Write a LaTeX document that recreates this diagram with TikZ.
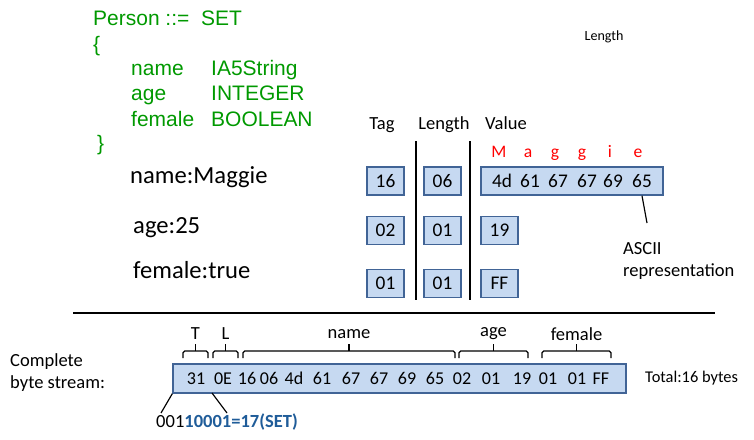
\documentclass[tikz,border=0pt]{standalone}
\usepackage{fontspec}
\setmainfont{Carlito}
\newfontfamily\asnfont{Liberation Sans}
\usetikzlibrary{positioning}

\definecolor{asngreen}{RGB}{0,153,0}
\definecolor{boxfill}{RGB}{198,217,241}
\definecolor{boxline}{RGB}{65,100,150}
\definecolor{bitblue}{RGB}{31,92,153}

\tikzset{
  asn/.style={font=\asnfont\fontsize{17.9}{21}\selectfont, text=asngreen, anchor=base west, inner sep=0},
  lbl/.style={font=\fontsize{15.8}{18.8}\selectfont, inner sep=0},
  field/.style={font=\fontsize{21}{24}\selectfont, anchor=base west, inner sep=0},
  tlvbox/.style={draw=boxline, line width=1.2pt, fill=boxfill, minimum height=0.84cm, inner sep=0},
  byte/.style={font=\fontsize{16.5}{19}\selectfont, inner sep=0},
  sbyte/.style={font=\fontsize{15.4}{18}\selectfont, inner sep=0},
  letter/.style={font=\fontsize{15}{18}\selectfont, text=red, anchor=base, inner sep=0},
  bracket/.style={line width=1.1pt, rounded corners=1.5pt},
}

\begin{document}
\begin{tikzpicture}[x=0.03cm, y=-0.03cm]
    \useasboundingbox (0,0) rectangle (754,439);

    % ASN.1 definition
    \node[asn] (def) at (93,25) {Person ::=\ \ SET};
    \node[asn] (lbrace) at (93,51) {\{};
    \node[asn] (fname) at (131,75) {name};
    \node[asn] (tname) at (211,75) {IA5String};
    \node[asn] (fage) at (131,100.5) {age};
    \node[asn] (tage) at (211,100.5) {INTEGER};
    \node[asn] (ffemale) at (131,126) {female};
    \node[asn] (tfemale) at (211,126) {BOOLEAN};
    \node[asn] (rbrace) at (97,150) {\}};

    \node[font=\fontsize{12}{14}\selectfont, inner sep=0] (note) at (604,37) {Length};

    % column heads
    \node[lbl, anchor=base] (htag) at (382,129) {Tag};
    \node[lbl, anchor=base] (hlen) at (444,129) {Length};
    \node[lbl, anchor=base] (hval) at (506,129) {Value};
    \draw[line width=1pt] (416,141) -- (416,300);
    \draw[line width=1pt] (470,141) -- (470,300);

    % fields
    \node[field] (nmaggie) at (130,183) {name:Maggie};
    \node[field] (nage) at (133,233) {age:25};
    \node[field] (nfemale) at (133,278) {female:true};

    % TLV boxes
    \node[tlvbox, byte, minimum width=1.11cm] (tag1) at (385.5,181) {16};
    \node[tlvbox, byte, minimum width=1.11cm] (len1) at (442.5,181) {06};
    \node[tlvbox, minimum width=5.46cm] (val1) at (572,181) {};
    \foreach \x/\b/\c/\cx [count=\i] in {502/4d/M/499, 530/61/a/528, 558/67/g/555, 587/67/g/582, 613/69/i/610, 642/65/e/638} {
        \node[byte] (v\i) at (\x,181) {\b};
        \node[letter] (c\i) at (\cx,157) {\c};
    }
    \node[tlvbox, byte, minimum width=1.11cm] (tag2) at (385.5,230.5) {02};
    \node[tlvbox, byte, minimum width=1.11cm] (len2) at (442.5,230.5) {01};
    \node[tlvbox, byte, minimum width=1.11cm] (val2) at (499.5,230.5) {19};
    \node[tlvbox, byte, minimum width=1.11cm] (tag3) at (385.5,283.5) {01};
    \node[tlvbox, byte, minimum width=1.11cm] (len3) at (442.5,283.5) {01};
    \node[tlvbox, byte, minimum width=1.11cm] (val3) at (499.5,283.5) {FF};

    \node[lbl, align=left, anchor=west] (ascii) at (623,261) {ASCII\\representation};
    \coordinate (asciiend) at (647,223);
    \draw[line width=1pt] (v6 |- val1.south) -- (asciiend);

    \draw[line width=1.2pt] (73,313) -- (715,313);

    % byte stream
    \node[lbl, align=left, anchor=west] (complete) at (10,373) {Complete\\byte stream:};
    \node[tlvbox, minimum width=13.59cm, minimum height=0.87cm] (stream) at (399.5,378.5) {};
    \foreach \x/\b [count=\i] in {196/31, 223/0E, 247/16, 269/06, 294/4d, 322/61, 351/67, 379/67,
                                  407/69, 435/65, 462/02, 491/01, 522/19, 548/01, 577/01, 601/FF} {
        \node[sbyte] (s\i) at (\x,378.5) {\b};
    }
    \node[font=\fontsize{14}{17}\selectfont, inner sep=0, anchor=west] (total) at (645,378) {Total:16 bytes};

    % brackets over the stream
    \foreach \a/\b/\t in {183/208/T, 213/238/L, 243/455/name, 459/528/age, 542/611/female} {
        \draw[bracket] (\a,358) -- (\a,351) -- (\b,351) -- (\b,358);
        \draw[line width=1.1pt] ({(\a+\b)/2},351) -- ({(\a+\b)/2},344);
        \node[lbl] (br\t) at ({(\a+\b)/2},334) {\t};
    }

    % tag bits
    \node[lbl, anchor=base west] (bits) at (156,427) {001\textcolor{bitblue}{\bfseries 10001=17(SET)}};
    \coordinate (bit0) at (161,413);
    \coordinate (bitA) at (212,393);
    \coordinate (bitB) at (227,413);
    \draw[line width=1pt] (stream.south west) -- (bit0);
    \draw[line width=1pt] (bitA) -- (bitB);
\end{tikzpicture}
\end{document}
